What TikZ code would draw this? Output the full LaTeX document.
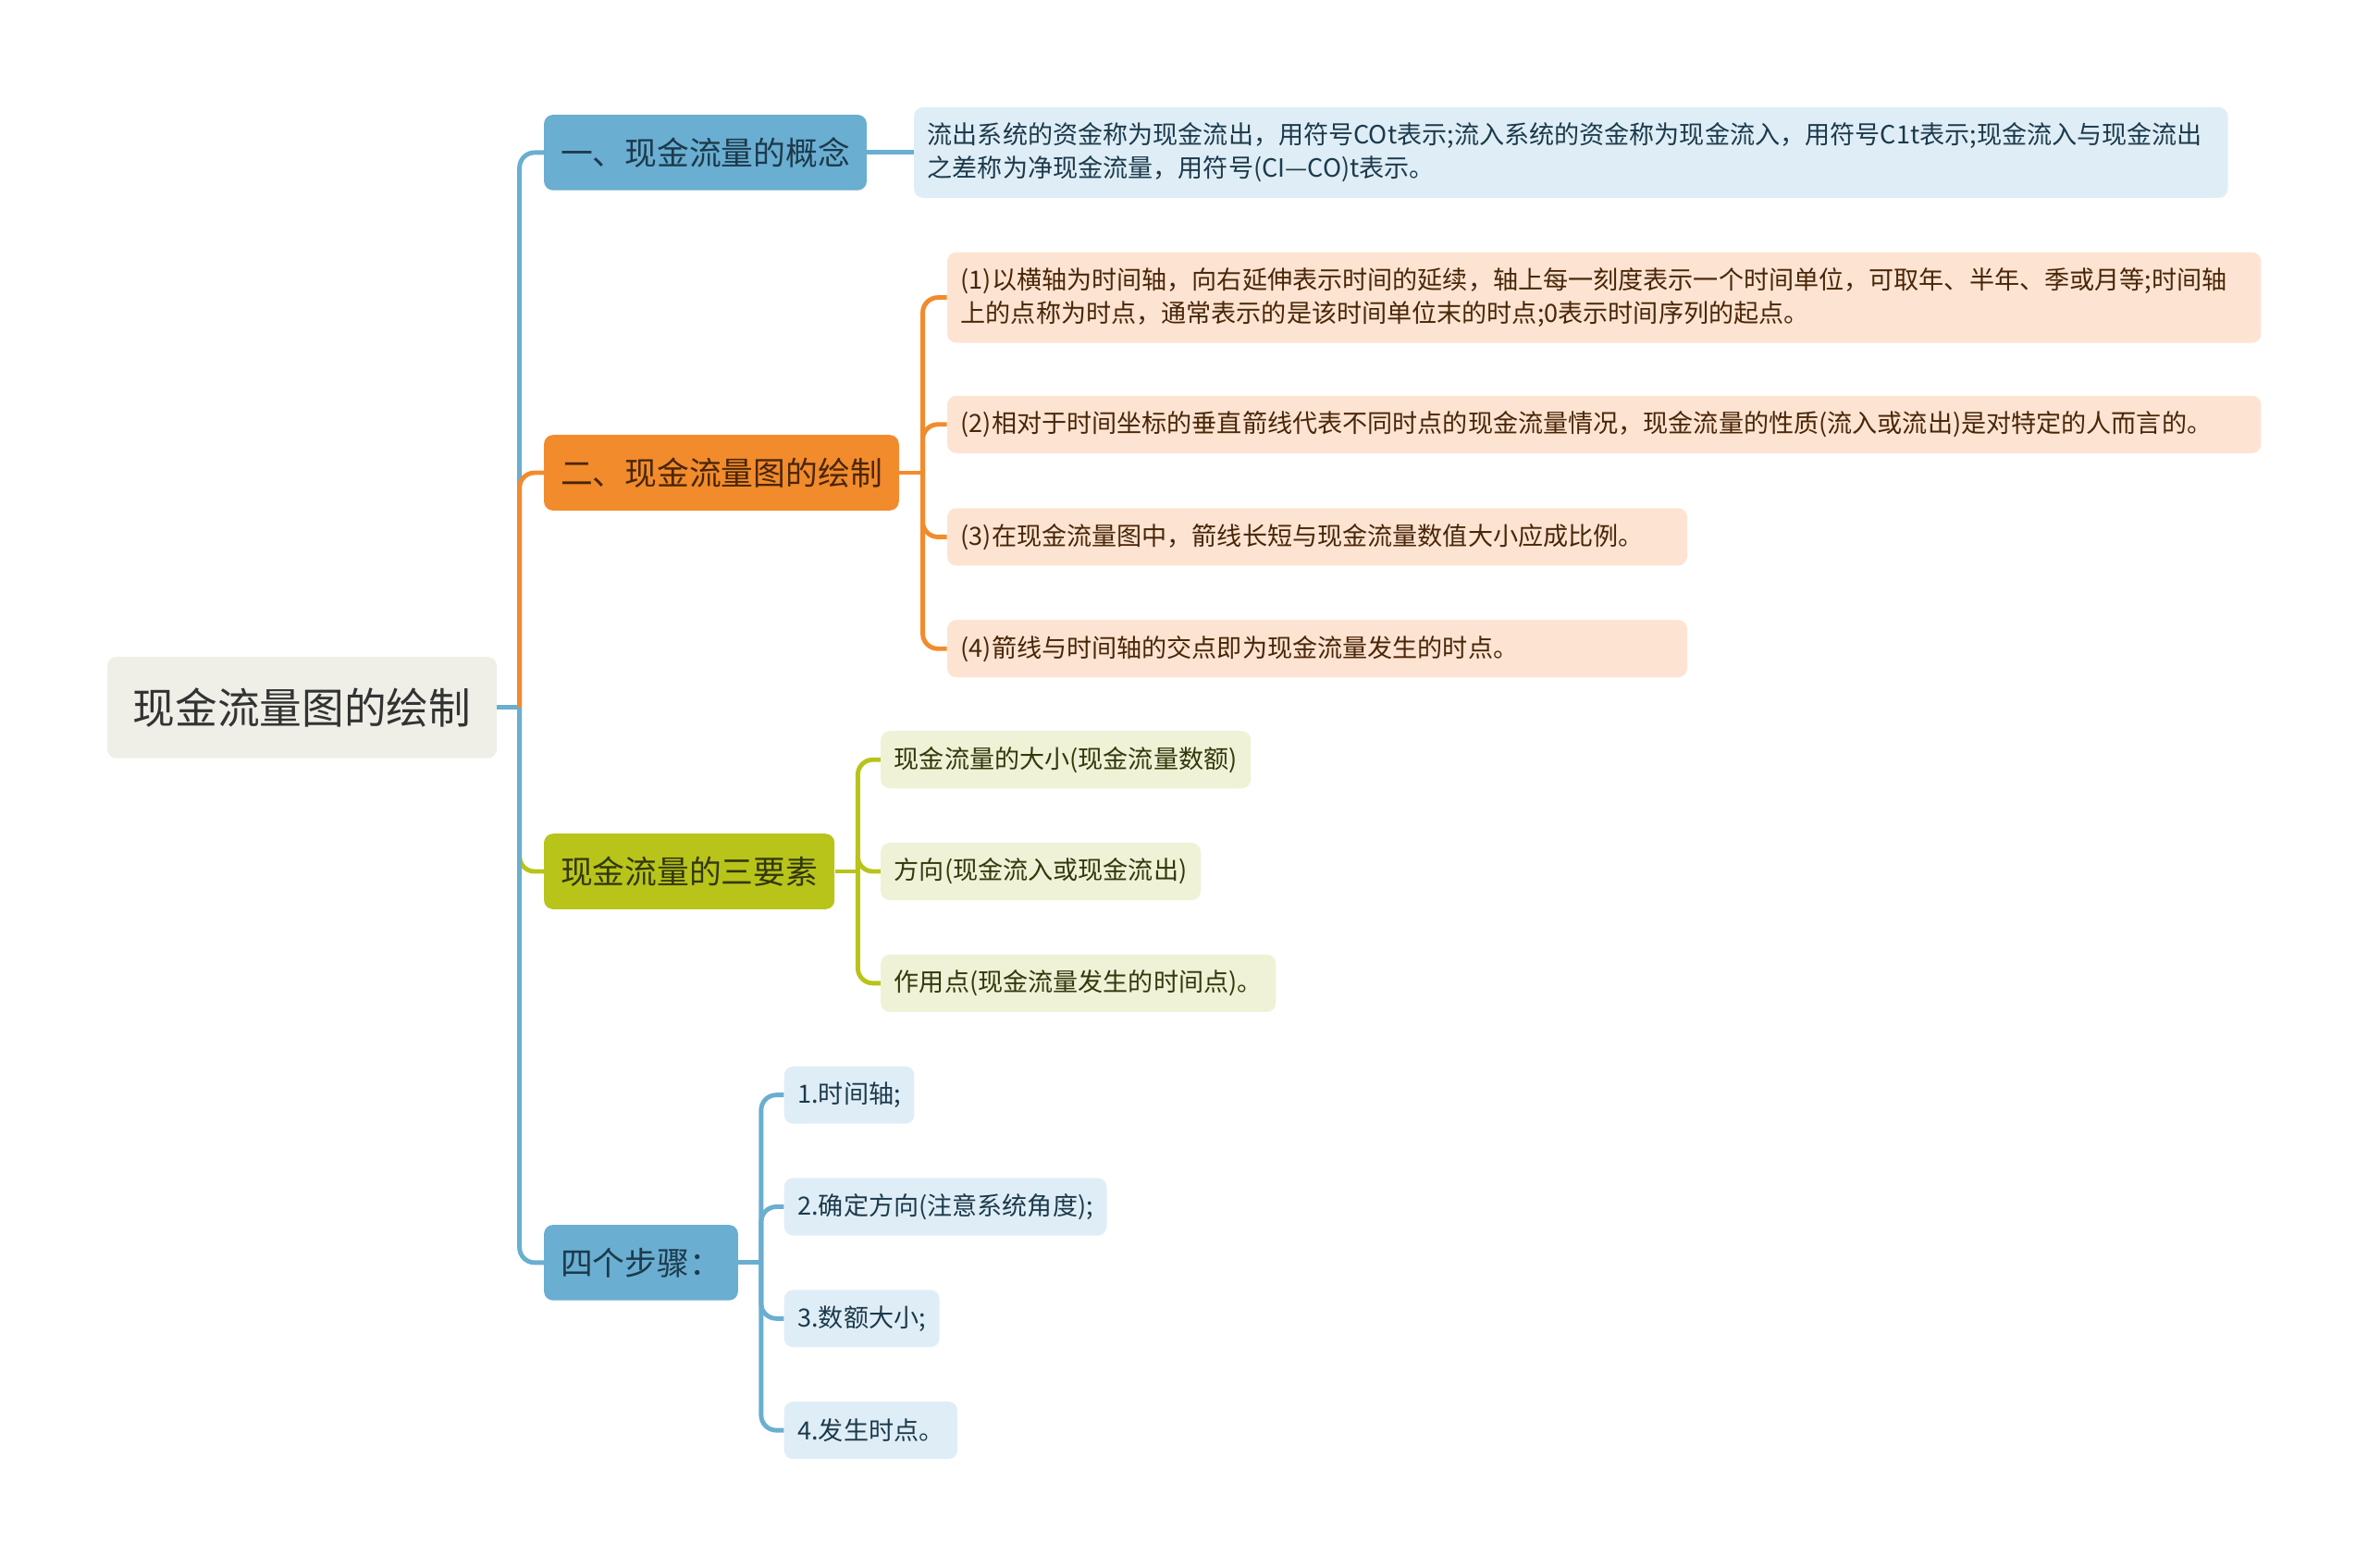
\documentclass[tikz,border=0pt]{standalone}
\usepackage{fontspec}
\newfontfamily\cjk{Noto Sans CJK SC}
\usepackage{tikz}
\usetikzlibrary{positioning,calc}
\definecolor{mmBlue}{HTML}{6AAED1}
\definecolor{mmOrange}{HTML}{F28B2C}
\definecolor{mmGreen}{HTML}{B8C41A}
\definecolor{mmRoot}{HTML}{EFEFE8}
\definecolor{mmBlueLt}{HTML}{DFEEF6}
\definecolor{mmOrangeLt}{HTML}{FDE4D2}
\definecolor{mmGreenLt}{HTML}{EFF2D6}
\definecolor{mmRootTxt}{HTML}{333333}
\definecolor{mmBlueTxt}{HTML}{1C3A4C}
\definecolor{mmOrangeTxt}{HTML}{4A2608}
\definecolor{mmGreenTxt}{HTML}{33380C}
\tikzset{
  mmnode/.style={rounded corners=6pt, inner ysep=0pt, anchor=west},
  root/.style={mmnode, anchor=center, fill=mmRoot, text=mmRootTxt,
    font=\cjk\fontsize{28}{32}\selectfont, minimum width=258pt, minimum height=67pt},
  topic/.style={mmnode, minimum height=50pt, inner xsep=11pt, font=\cjk\fontsize{21.3}{25}\selectfont},
  topicB/.style={topic, fill=mmBlue, text=mmBlueTxt},
  topicO/.style={topic, fill=mmOrange, text=mmOrangeTxt},
  topicG/.style={topic, fill=mmGreen, text=mmGreenTxt},
  leaf/.style={mmnode, minimum height=38pt, inner xsep=9pt, align=left,
    font=\cjk\fontsize{16.6}{22}\selectfont},
  leafB/.style={leaf, fill=mmBlueLt, text=mmBlueTxt},
  leafO/.style={leaf, fill=mmOrangeLt, text=mmOrangeTxt},
  leafG/.style={leaf, fill=mmGreenLt, text=mmGreenTxt},
  link/.style={line width=3pt, rounded corners=10pt},
  linkB/.style={link, mmBlue},
  linkO/.style={link, mmOrange},
  linkG/.style={link, mmGreen}
}
\begin{document}
\begin{tikzpicture}[x=1pt, y=-1pt]
  \useasboundingbox (0,0) rectangle (1568,1038);
  \node[root] (root) at (200,468.5) {现金流量图的绘制};
  \coordinate (hub) at (344,468.5);
  \node[topicB] (con) at (360,101) {一、现金流量的概念};
  \node[topicO] (draw) at (360,313) {二、现金流量图的绘制};
  \node[topicG] (elem) at (360,577) {现金流量的三要素};
  \node[topicB] (step) at (360,836) {四个步骤：};
  \node[leafB, text width=852pt, minimum height=60pt] (def) at (605,101)
    {流出系统的资金称为现金流出，用符号COt表示;流入系统的资金称为现金流入，用符号C1t表示;现金流入与现金流出\\之差称为净现金流量，用符号(CI—CO)t表示。};
  \coordinate (hdraw) at (611,313);
  \node[leafO, text width=852pt, minimum height=60pt] (d1) at (627,197)
    {(1)以横轴为时间轴，向右延伸表示时间的延续，轴上每一刻度表示一个时间单位，可取年、半年、季或月等;时间轴\\上的点称为时点，通常表示的是该时间单位末的时点;0表示时间序列的起点。};
  \node[leafO, text width=852pt] (d2) at (627,281)
    {(2)相对于时间坐标的垂直箭线代表不同时点的现金流量情况，现金流量的性质(流入或流出)是对特定的人而言的。};
  \node[leafO, text width=472pt] (d3) at (627,355.5) {(3)在现金流量图中，箭线长短与现金流量数值大小应成比例。};
  \node[leafO, text width=472pt] (d4) at (627,429.5) {(4)箭线与时间轴的交点即为现金流量发生的时点。};
  \coordinate (helem) at (568,577);
  \node[leafG] (e1) at (583,503) {现金流量的大小(现金流量数额)};
  \node[leafG] (e2) at (583,577) {方向(现金流入或现金流出)};
  \node[leafG] (e3) at (583,651) {作用点(现金流量发生的时间点)。};
  \coordinate (hstep) at (504,836);
  \node[leafB] (s1) at (519,725) {1.时间轴;};
  \node[leafB] (s2) at (519,799) {2.确定方向(注意系统角度);};
  \node[leafB] (s3) at (519,873) {3.数额大小;};
  \node[leafB] (s4) at (519,947) {4.发生时点。};
  \draw[linkB] (root.east) -- (hub);
  \draw[linkB] (hub) |- (con.west);
  \draw[linkO] (hub) |- (draw.west);
  \draw[linkG] (hub) |- (elem.west);
  \draw[linkB] (hub) |- (step.west);
  \draw[linkB] (con.east) -- (def.west);
  \draw[linkO] (draw.east) -- (hdraw);
  \foreach \n in {d1,d2,d3,d4}{\draw[linkO] (hdraw) |- (\n.west);}
  \draw[linkG] (elem.east) -- (helem);
  \foreach \n in {e1,e2,e3}{\draw[linkG] (helem) |- (\n.west);}
  \draw[linkB] (step.east) -- (hstep);
  \foreach \n in {s1,s2,s3,s4}{\draw[linkB] (hstep) |- (\n.west);}
\end{tikzpicture}
\end{document}
